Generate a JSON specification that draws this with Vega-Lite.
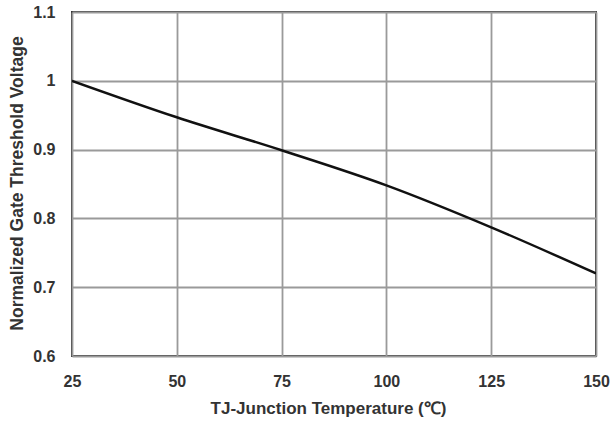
{
  "$schema": "https://vega.github.io/schema/vega-lite/v6.json",
  "width": 524,
  "height": 344,
  "autosize": "none",
  "padding": {"left": 72, "top": 12, "right": 15, "bottom": 68},
  "background": "white",
  "config": {
    "view": {"stroke": "#333333", "strokeWidth": 2},
    "font": "Liberation Sans"
  },
  "data": {
    "values": [
      {"t": 25, "v": 1.0},
      {"t": 50, "v": 0.947},
      {"t": 75, "v": 0.899},
      {"t": 100, "v": 0.848},
      {"t": 125, "v": 0.787},
      {"t": 150, "v": 0.72}
    ]
  },
  "mark": {"type": "line", "color": "#111111", "strokeWidth": 2.5, "interpolate": "monotone", "clip": true},
  "encoding": {
    "x": {
      "field": "t",
      "type": "quantitative",
      "scale": {"domain": [25, 150], "nice": false, "zero": false},
      "axis": {
        "values": [25, 50, 75, 100, 125, 150],
        "title": "TJ-Junction Temperature (℃)",
        "titleFont": "Liberation Sans",
        "titleFontSize": 17,
        "titleFontWeight": "bold",
        "titleColor": "#333333",
        "titleX": 256,
        "titleY": 52,
        "titleBaseline": "middle",
        "titleAlign": "center",
        "labelFont": "Liberation Sans",
        "labelFontSize": 16,
        "labelFontWeight": "bold",
        "labelColor": "#333333",
        "labelPadding": 17,
        "labelFlush": false,
        "ticks": false,
        "domain": false,
        "grid": true,
        "gridColor": "#9a9a9a",
        "gridWidth": 1.8
      }
    },
    "y": {
      "field": "v",
      "type": "quantitative",
      "scale": {"domain": [0.6, 1.1], "nice": false, "zero": false},
      "axis": {
        "values": [0.6, 0.7, 0.8, 0.9, 1, 1.1],
        "format": "~g",
        "title": "Normalized Gate Threshold Voltage",
        "titleFont": "Liberation Sans",
        "titleFontSize": 17.5,
        "titleFontWeight": "bold",
        "titleColor": "#333333",
        "titleAngle": -90,
        "titleX": -55,
        "titleY": 171,
        "titleBaseline": "middle",
        "titleAlign": "center",
        "labelFont": "Liberation Sans",
        "labelFontSize": 16,
        "labelFontWeight": "bold",
        "labelColor": "#333333",
        "labelPadding": 17,
        "labelFlush": false,
        "ticks": false,
        "domain": false,
        "grid": true,
        "gridColor": "#9a9a9a",
        "gridWidth": 1.8
      }
    }
  }
}
